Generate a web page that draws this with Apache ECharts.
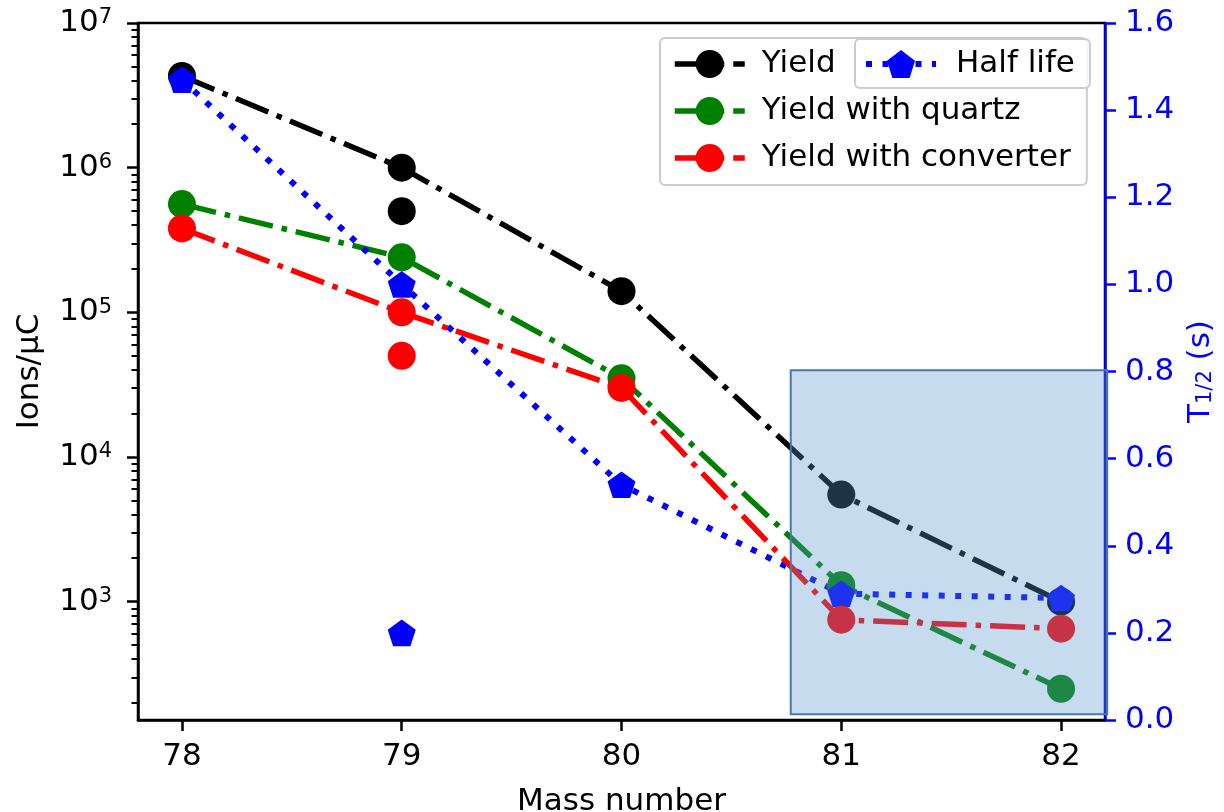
<!DOCTYPE html>
<html>
<head>
<meta charset="utf-8">
<script src="https://cdn.jsdelivr.net/npm/echarts@6/dist/echarts.min.js"></script>
<style>
  html, body { margin: 0; padding: 0; background: #ffffff; }
  #chart { width: 1224px; height: 812px; }
</style>
</head>
<body>
<div id="chart"></div>
<script>
// Mass numbers and measured yields (ions per microcoulomb)
const massNumbers = [78, 79, 80, 81, 82];
const yieldTotal = [4.3e6, 1.0e6, 1.4e5, 5.5e3, 1.0e3];
const yieldQuartz = [5.6e5, 2.4e5, 3.5e4, 1.3e3, 2.5e2];
const yieldConverter = [3.8e5, 1.0e5, 3.0e4, 7.5e2, 6.5e2];
// Half lives in seconds
const halfLife = [1.47, 1.0, 0.54, 0.29, 0.28];

// Second (isomeric) state at A = 79, drawn as unconnected points
const isomerMass = [79];
const isomerYield = [5.0e5];
const isomerYieldConverter = [5.0e4];
const isomerHalfLife = [0.2];

// Shaded region, in (mass number, T1/2) coordinates
const regionMass = [80.77, 82.21];
const regionHalfLife = [0.013, 0.803];

// Tick values
const massTicks = [78, 79, 80, 81, 82];
const yieldMajorTicks = [1e3, 1e4, 1e5, 1e6, 1e7];
const yieldMinorTicks = [
  200, 300, 400, 500, 600, 700, 800, 900,
  2000, 3000, 4000, 5000, 6000, 7000, 8000, 9000,
  20000, 30000, 40000, 50000, 60000, 70000, 80000, 90000,
  200000, 300000, 400000, 500000, 600000, 700000, 800000, 900000,
  2000000, 3000000, 4000000, 5000000, 6000000, 7000000, 8000000, 9000000
];

const FONT = 'DejaVu Sans';
const LW = 5.5;
const DASH_DOT = [35, 9, 5.5, 9];
const DOTTED = [6, 10.5];
const PENTAGON = 'path://M0,-10 L9.511,-3.09 L5.878,8.09 L-5.878,8.09 L-9.511,-3.09 Z';

const pairs = (xs, ys) => xs.map((x, i) => [x, ys[i]]);

const chart = echarts.init(document.getElementById('chart'), null, { renderer: 'canvas' });

function yieldLine(name, values, color) {
  return {
    name: name,
    type: 'line',
    xAxisIndex: 0,
    yAxisIndex: 0,
    data: pairs(massNumbers, values),
    symbol: 'circle',
    symbolSize: 28,
    showSymbol: true,
    itemStyle: { color: color },
    lineStyle: { color: color, width: LW, type: DASH_DOT, cap: 'butt' },
    emphasis: { disabled: true },
    z: 2
  };
}

function extraPoints(name, xs, ys, color, axisIndex, symbol, size) {
  return {
    name: name,
    type: 'scatter',
    xAxisIndex: 0,
    yAxisIndex: axisIndex,
    data: pairs(xs, ys),
    symbol: symbol,
    symbolSize: size,
    itemStyle: { color: color, opacity: 1 },
    emphasis: { disabled: true },
    z: 2
  };
}

const legendBase = {
  orient: 'vertical',
  itemWidth: 70,
  itemHeight: 35,
  backgroundColor: 'rgba(255,255,255,0.8)',
  borderColor: '#cccccc',
  borderWidth: 2,
  borderRadius: 5,
  selectedMode: false,
  textStyle: { fontFamily: FONT, fontSize: 31, color: '#000000', lineHeight: 31 }
};

const option = {
  animation: false,
  backgroundColor: '#ffffff',
  grid: {
    left: 138, right: 119, top: 23, bottom: 92,
    outerBoundsMode: 'none',
    containLabel: false,
    show: true, borderColor: '#000000', borderWidth: 2.5, backgroundColor: 'transparent'
  },
  legend: [
    Object.assign({}, legendBase, {
      left: 660, top: 38,
      padding: [10.5, 16, 11.5, 12],
      itemGap: 16,
      data: ['Yield', 'Yield with quartz', 'Yield with converter'],
      lineStyle: { width: LW, type: DASH_DOT, cap: 'butt' },
      textStyle: Object.assign({}, legendBase.textStyle, { padding: [0, 0, 0, 12] }),
      z: 4
    }),
    Object.assign({}, legendBase, {
      left: 855, top: 39,
      padding: [9.5, 15, 8.5, 8],
      data: ['Half life'],
      lineStyle: { width: 6, type: DOTTED, cap: 'butt' },
      textStyle: Object.assign({}, legendBase.textStyle, { padding: [0, 0, 0, 15] }),
      z: 5
    })
  ],
  xAxis: [{
    type: 'value',
    min: 77.8,
    max: 82.2,
    name: 'Mass number',
    nameLocation: 'middle',
    nameGap: 66,
    nameTextStyle: { fontFamily: FONT, fontSize: 31, color: '#000000' },
    axisLine: { show: true, lineStyle: { color: '#000000', width: 2.5 } },
    axisTick: { show: true, length: 11, lineStyle: { color: '#000000', width: 2.5 }, customValues: massTicks },
    axisLabel: {
      show: true, margin: 21, fontFamily: FONT, fontSize: 31, color: '#000000',
      customValues: massTicks,
      formatter: (v) => String(Math.round(v))
    },
    splitLine: { show: false }
  }],
  yAxis: [
    {
      type: 'log',
      logBase: 10,
      position: 'left',
      min: 152,
      max: 1e7,
      name: 'Ions/\u03bcC',
      nameLocation: 'middle',
      nameRotate: 90,
      nameGap: 93,
      nameTextStyle: { fontFamily: FONT, fontSize: 31, color: '#000000' },
      axisLine: { show: true, lineStyle: { color: '#000000', width: 2.5 } },
      axisTick: { show: true, length: 11, lineStyle: { color: '#000000', width: 2.5 }, customValues: yieldMajorTicks },
      axisLabel: {
        show: true, margin: 26, color: '#000000',
        customValues: yieldMajorTicks,
        formatter: (v) => '{b|10}{s|' + Math.round(Math.log10(v)) + '}',
        rich: {
          b: { fontFamily: FONT, fontSize: 31, color: '#000000' },
          s: { fontFamily: FONT, fontSize: 21, color: '#000000', verticalAlign: 'top' }
        }
      },
      splitLine: { show: false }
    },
    {
      type: 'log',
      logBase: 10,
      position: 'left',
      min: 152,
      max: 1e7,
      axisLine: { show: false },
      axisTick: { show: true, length: 6.5, lineStyle: { color: '#000000', width: 2 }, customValues: yieldMinorTicks },
      axisLabel: { show: false },
      splitLine: { show: false }
    },
    {
      type: 'value',
      position: 'right',
      min: 0,
      max: 1.6,
      interval: 0.2,
      name: 'T{sub|1/2} (s)',
      nameLocation: 'middle',
      nameRotate: 90,
      nameGap: 78,
      nameTextStyle: {
        fontFamily: FONT, fontSize: 31, color: '#0000ff',
        rich: { sub: { fontFamily: FONT, fontSize: 21, color: '#0000ff', verticalAlign: 'bottom' } }
      },
      axisLine: { show: true, lineStyle: { color: '#0000ff', width: 2.5 } },
      axisTick: { show: true, length: 11, lineStyle: { color: '#0000ff', width: 2.5 } },
      axisLabel: {
        show: true, margin: 20, fontFamily: FONT, fontSize: 31, color: '#0000ff',
        formatter: (v) => v.toFixed(1)
      },
      splitLine: { show: false }
    }
  ],
  series: [
    yieldLine('Yield', yieldTotal, '#000000'),
    extraPoints('Yield (isomer)', isomerMass, isomerYield, '#000000', 0, 'circle', 28),
    yieldLine('Yield with quartz', yieldQuartz, '#008000'),
    {
      name: 'Half life',
      type: 'line',
      xAxisIndex: 0,
      yAxisIndex: 2,
      data: pairs(massNumbers, halfLife),
      symbol: PENTAGON,
      symbolSize: [28, 26.6],
      showSymbol: true,
      itemStyle: { color: '#0000ff' },
      lineStyle: { color: '#0000ff', width: 6, type: DOTTED, cap: 'butt' },
      emphasis: { disabled: true },
      z: 2
    },
    extraPoints('Half life (isomer)', isomerMass, isomerHalfLife, '#0000ff', 2, PENTAGON, [28, 26.6]),
    yieldLine('Yield with converter', yieldConverter, '#ff0000'),
    extraPoints('Yield with converter (isomer)', isomerMass, isomerYieldConverter, '#ff0000', 0, 'circle', 28),
    {
      name: 'region',
      type: 'custom',
      xAxisIndex: 0,
      yAxisIndex: 2,
      z: 3,
      silent: true,
      data: [[regionMass[0], regionMass[1], regionHalfLife[0], regionHalfLife[1]]],
      encode: { x: [0, 1], y: [2, 3] },
      renderItem: function (params, api) {
        const p0 = api.coord([api.value(0), api.value(3)]);
        const p1 = api.coord([api.value(1), api.value(2)]);
        return {
          type: 'rect',
          shape: { x: p0[0], y: p0[1], width: p1[0] - p0[0], height: p1[1] - p0[1] },
          style: { fill: 'rgba(88,150,205,0.34)', stroke: '#4a78a6', lineWidth: 2 }
        };
      }
    }
  ]
};

chart.setOption(option);
</script>
</body>
</html>
